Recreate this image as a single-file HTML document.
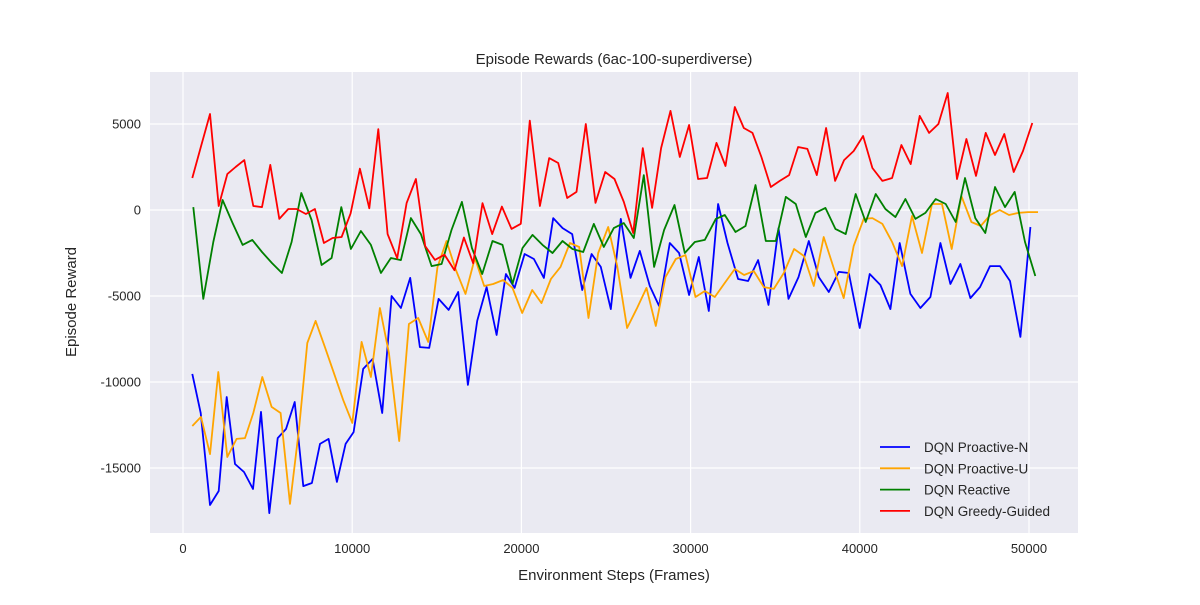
<!DOCTYPE html>
<html><head><meta charset="utf-8">
<style>
body{margin:0;background:#fff;}
svg text{font-family:"Liberation Sans","DejaVu Sans",sans-serif;fill:#262626;}
</style></head>
<body>
<svg id="chart" width="1200" height="600" xmlns="http://www.w3.org/2000/svg">
<rect x="150" y="72" width="928" height="461" fill="#eaeaf2"/>
<g id="grid"></g>
<g id="series"></g>
<g id="ticks"></g>
<text x="614" y="64" text-anchor="middle" font-size="15">Episode Rewards (6ac-100-superdiverse)</text>
<text x="614" y="580" text-anchor="middle" font-size="15">Environment Steps (Frames)</text>
<text x="76" y="302" text-anchor="middle" font-size="15" transform="rotate(-90 76 302)">Episode Reward</text>
<g id="legend"></g>
</svg>
<script>
const xTicks=[0,10000,20000,30000,40000,50000];
const yTicks=[5000,0,-5000,-10000,-15000];
const seriesNames=["DQN Proactive-N","DQN Proactive-U","DQN Reactive","DQN Greedy-Guided"];
const seriesColors=["#0000ff","#ffa500","#008000","#ff0000"];
const blueSteps=[549,1046,1595,2109,2582,3072,3604,4136,4608,5099,5595,6085,6599,7107,7621,8094,8608,9098,9612,10085,
10652,11208,11775,12330,12879,13429,14002,14552,15107,15698,16265,16838,17387,17943,18534,19083,19597,20188,
20737,21328,21877,22433,23000,23591,24146,24695,25286,25877,26450,27000,27591,28140,28772,29322,29913,30485,
31076,31625,32181,32807,33398,33989,34603,35194,35785,36375,36984,37575,38166,38756,39347,39997,
40588,41220,41811,42360,42992,43583,44174,44765,45356,45947,46537,47104,47695,48286,48877,49492,50083];
const blueVals=[-9530,-11800,-17150,-16340,-10870,-14770,-15230,-16220,-11740,-17620,-13260,-12730,-11160,-16050,-15870,-13600,-13310,-15810,-13600,-12910,
-9240,-8660,-11800,-5000,-5700,-3950,-7970,-8020,-5170,-5810,-4770,-10170,-6450,-4480,-7270,-3720,-4530,-2560,
-2850,-3950,-470,-1050,-1400,-4650,-2560,-3310,-5760,-520,-3950,-2380,-4420,-5580,-1920,-2500,-4940,-2730,
-5870,350,-1920,-4010,-4130,-2910,-5520,-1050,-5170,-3900,-1800,-3900,-4770,-3600,-3660,-6860,
-3720,-4360,-5760,-1920,-4880,-5700,-5060,-1920,-4300,-3140,-5120,-4480,-3260,-3260,-4130,-7380,-990];
const orangeSteps=[552,1064,1595,2087,2619,3170,3663,4155,4687,5238,5769,6321,6852,7345,7837,8388,8920,9471,10003,
10555,11106,11638,12170,12780,13351,13902,14493,15044,15576,16108,16698,17250,17801,18333,18923,19475,20045,
20639,21190,21741,22312,22864,23415,23966,24537,25128,25659,26250,26841,27392,27944,28515,29125,29696,30287,
30840,31431,32021,32612,33163,33734,34325,34916,35507,36117,36688,37279,37869,38460,39051,39641,40232,
40745,41336,41907,42498,43088,43679,44270,44860,45431,46002,46593,47144,47715,48267,48818,49369,49940,50531];
const orangeVals=[-12560,-12030,-14190,-9420,-14360,-13310,-13260,-11800,-9710,-11450,-11800,-17090,-12790,-7730,-6450,-7970,-9480,-11050,-12380,
-7670,-9710,-5700,-8310,-13430,-6630,-6280,-7670,-3310,-1800,-3430,-4880,-2790,-4420,-4300,-4070,-4530,-5990,
-4650,-5410,-4010,-3310,-1920,-2150,-6280,-2500,-990,-3260,-6860,-5700,-4530,-6740,-3900,-2850,-2620,-5060,
-4710,-5060,-4240,-3430,-3780,-3550,-4480,-4590,-3660,-2270,-2670,-4420,-1570,-3370,-5120,-2090,-520,
-470,-810,-1860,-3260,-350,-2500,350,350,-2270,810,-700,-930,-290,0,-290,-170,-120,-120];
const greenSteps=[611,1201,1792,2343,2934,3525,4096,4667,5257,5848,6419,6990,7601,8191,8782,9353,9924,
10516,11106,11697,12288,12879,13469,14060,14690,15281,15871,16482,17073,17683,18293,18884,19475,20065,
20658,21249,21840,22430,23021,23651,24281,24872,25463,26053,26644,27235,27845,28436,29046,29657,30247,
30840,31490,32021,32651,33242,33833,34443,35034,35625,36215,36806,37377,37968,38559,39169,39760,40350,
40942,41513,42104,42695,43285,43876,44486,45077,45668,46219,46829,47420,47991,48582,49153,49763,50374];
const greenVals=[170,-5170,-1860,580,-760,-2030,-1740,-2440,-3080,-3660,-1860,990,-580,-3200,-2790,170,-2270,
-1220,-2030,-3660,-2790,-2910,-470,-1400,-3260,-3140,-1160,470,-2210,-3720,-1800,-2030,-4300,-2210,
-1450,-2030,-2500,-1800,-2270,-2440,-810,-2150,-1050,-760,-1630,2030,-3310,-1160,290,-2500,-1860,
-1740,-520,-290,-1280,-930,1450,-1800,-1800,760,350,-1570,-170,120,-1100,-1400,930,-700,
930,60,-410,640,-520,-170,640,350,-700,1860,-470,-1340,1340,170,1050,-1860,-3840];
const redSteps=[552,1064,1595,2107,2619,3111,3623,4155,4667,5159,5691,6222,6714,7266,7797,8329,8841,9373,9904,10456,
11008,11540,12091,12662,13213,13765,14316,14887,15458,16049,16600,17151,17703,18274,18845,19415,19967,20499,
21091,21643,22174,22706,23257,23809,24380,24951,25502,26053,26605,27176,27727,28259,28810,29361,29913,30444,
30978,31529,32061,32612,33144,33656,34187,34739,35270,35822,36353,36905,37456,38007,38539,39071,39641,40193,
40745,41336,41907,42458,43010,43542,44093,44644,45195,45746,46298,46869,47440,47991,48542,49094,49645,50196];
const redVals=[1860,3700,5580,230,2090,2500,2900,230,170,2620,-520,60,60,-230,60,-1920,-1630,-1570,-200,2400,
100,4700,-1400,-2800,400,1800,-2100,-2900,-2600,-3500,-1600,-3100,400,-1400,200,-1100,-800,5200,
230,3020,2730,700,1050,5000,410,2210,1800,470,-1340,3600,120,3600,5760,3080,4940,1800,
1860,3900,2560,5990,4770,4480,3080,1340,1690,2030,3660,3550,2030,4770,1690,2900,3430,4300,
2440,1690,1860,3780,2670,5470,4480,5000,6800,1800,4130,1980,4480,3200,4420,2210,3430,5060];
const allSteps=[blueSteps,orangeSteps,greenSteps,redSteps];
const allVals=[blueVals,orangeVals,greenVals,redVals];
const NS="http://www.w3.org/2000/svg";
const X0=150,X1=1078,Y0=72,Y1=533;
function xScale(s){return 183+s*(1029-183)/50000;}
function yScale(v){return 210-v*(86/5000);}
function mk(tag,attrs,parent){const e=document.createElementNS(NS,tag);for(const k in attrs)e.setAttribute(k,attrs[k]);parent.appendChild(e);return e;}
const grid=document.getElementById('grid'),ticks=document.getElementById('ticks');
xTicks.forEach(t=>{
  const l=mk('line',{x1:xScale(t),x2:xScale(t),y1:Y0,y2:Y1,stroke:'#fff','stroke-width':1.2},grid);
  
  
  const tx=mk('text',{x:xScale(t),y:Y1+20,'text-anchor':'middle','font-size':13},ticks);
  tx.textContent=t;
  
  
});
yTicks.forEach(t=>{
  const l=mk('line',{x1:X0,x2:X1,y1:yScale(t),y2:yScale(t),stroke:'#fff','stroke-width':1.2},grid);
  
  
  const tx=mk('text',{x:X0-9,y:yScale(t)+4.5,'text-anchor':'end','font-size':13},ticks);
  tx.textContent=t;
  
  
});
const sg=document.getElementById('series');
allVals.forEach((vals,k)=>{
  const st=allSteps[k];
  const pts=vals.map((v,i)=>xScale(st[i]).toFixed(1)+','+yScale(v).toFixed(1)).join(' ');
  const p=mk('polyline',{points:pts,fill:'none',stroke:seriesColors[k],'stroke-width':1.8,'stroke-linejoin':'round'},sg);
  
  
});
const lg=document.getElementById('legend');
seriesNames.forEach((nm,k)=>{
  const y=447+k*21.3;
  const l=mk('line',{x1:880,x2:910,y1:y,y2:y,stroke:seriesColors[k],'stroke-width':1.8},lg);
  
  
  const t=mk('text',{x:924,y:y+5,'font-size':13.5},lg);
  t.textContent=nm;
  
  
});
</script>
</body></html>
